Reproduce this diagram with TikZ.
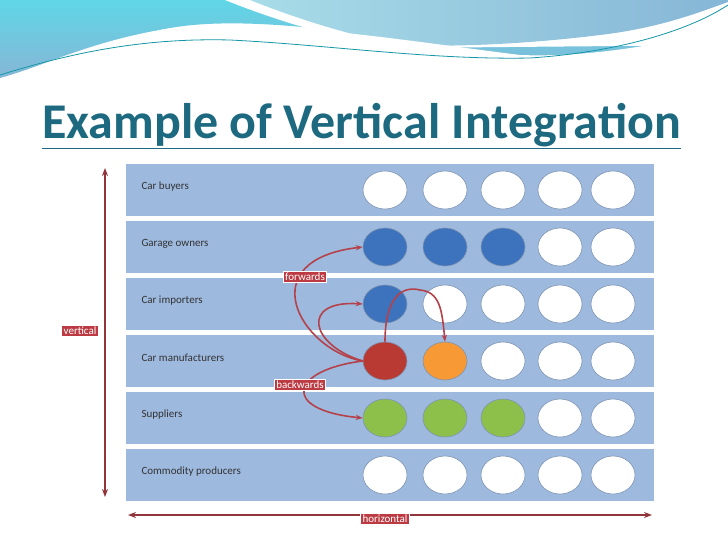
\documentclass[tikz,border=0pt]{standalone}
\usepackage{fontspec}
\setmainfont{Carlito}
\usetikzlibrary{arrows.meta,shapes.geometric}
\definecolor{rowfill}{HTML}{9DB9DE}
\definecolor{cblue}{HTML}{3D72BD}
\definecolor{cred}{HTML}{B83A33}
\definecolor{corange}{HTML}{F79A35}
\definecolor{cgreen}{HTML}{8CC04B}
\definecolor{arrred}{HTML}{B5424A}
\definecolor{titleteal}{HTML}{1D6A80}
\definecolor{waveA}{HTML}{5FD6E6}
\definecolor{waveB}{HTML}{86B6D6}
\definecolor{waveC}{HTML}{A8DCE8}
\tikzset{
  rowbox/.style={fill=rowfill,draw=white,line width=1.5pt},
  rowtext/.style={anchor=west,font=\fontsize{11}{11}\selectfont,text=black!80},
  dot/.style={ellipse,minimum width=44pt,minimum height=38pt,draw=rowfill!80!black,line width=0.6pt,fill=#1},
  tag/.style={fill=arrred!90!red,draw=white,line width=1pt,text=white,font=\fontsize{11}{11}\selectfont,inner sep=2pt},
  link/.style={arrred,line width=1.6pt,-{Stealth[length=7pt]}},
  axis/.style={arrred!80!black,line width=1.5pt,{Stealth[length=8pt]}-{Stealth[length=8pt]}}
}
\begin{document}
\begin{tikzpicture}[x=1pt,y=-1pt]
  \useasboundingbox (0,0) rectangle (728,546);
  % wave header
  \shade[left color=waveA,right color=waveB,shading angle=0] (0,0) -- (728,0) -- (728,30) .. controls (650,55) and (560,60) .. (520,58) .. controls (400,40) and (250,10) .. (160,30) .. controls (90,45) and (30,70) .. (0,78) -- cycle;
  \fill[white] (225,0) .. controls (280,22) and (340,40) .. (400,48) -- (728,45) -- (728,0) -- cycle;
  \shade[left color=waveC,right color=waveB] (250,0) .. controls (300,20) and (350,35) .. (400,45) .. controls (480,48) and (560,40) .. (600,35) .. controls (660,28) and (700,12) .. (728,2) -- (728,0) -- cycle;
  \fill[white] (0,80) .. controls (30,70) and (90,42) .. (160,30) .. controls (250,15) and (400,40) .. (520,55) .. controls (600,58) and (680,40) .. (728,28) -- (728,90) -- (0,90) -- cycle;
  \draw[titleteal!70!cyan,line width=0.8pt] (0,75) .. controls (80,50) and (150,38) .. (230,40) .. controls (330,45) and (430,60) .. (530,58) .. controls (620,52) and (690,30) .. (728,5);
  % title
  \node[anchor=base west,text=titleteal,font=\bfseries\fontsize{50}{50}\selectfont,inner sep=0] (title) at (42,138) {\underline{Example of Vertical Integration}};
  % rows
  \foreach \y/\lbl [count=\i] in {190/Car buyers,247/Garage owners,304/Car importers,361/Car manufacturers,418/Suppliers,475/Commodity producers} {
    \draw[rowbox] (125,\y-27) rectangle (655,\y+27);
    \node[rowtext] (lbl\i) at (138,\y-3) {\lbl};
  }
  % circles
  \foreach \x [count=\j] in {385,445,503,560,613} {
    \node[dot=white] (c1\j) at (\x,190) {};
    \node[dot=white] (c6\j) at (\x,475) {};
  }
  \foreach \x/\c [count=\j] in {385/cblue,445/cblue,503/cblue,560/white,613/white}
    \node[dot=\c] (c2\j) at (\x,247) {};
  \foreach \x/\c [count=\j] in {385/cblue,445/white,503/white,560/white,613/white}
    \node[dot=\c] (c3\j) at (\x,304) {};
  \foreach \x/\c [count=\j] in {385/cred,445/corange,503/white,560/white,613/white}
    \node[dot=\c] (c4\j) at (\x,361) {};
  \foreach \x/\c [count=\j] in {385/cgreen,445/cgreen,503/cgreen,560/white,613/white}
    \node[dot=\c] (c5\j) at (\x,418) {};
  % links
  \draw[link] (c41.west) .. controls (300,350) and (250,260) .. (c21.west);
  \draw[link] (c41.west) .. controls (310,345) and (300,300) .. (c31.west);
  \draw[link] (c41.north) .. controls (385,300) and (400,285) .. (420,290) .. controls (440,292) and (442,310) .. (c42.north);
  \draw[link] (c41.west) .. controls (290,370) and (280,410) .. (c51.west);
  \node[tag] (fwd) at (305,277) {forwards};
  \node[tag] (bwd) at (300,385) {backwards};
  % axes
  \coordinate (vtop) at (105,168);
  \coordinate (vbot) at (105,497);
  \coordinate (hleft) at (128,515);
  \coordinate (hright) at (652,515);
  \draw[axis] (vtop) -- (vbot);
  \draw[axis] (hleft) -- (hright);
  \node[tag] (vert) at (80,331) {vertical};
  \node[tag] (horiz) at (385,519) {horizontal};
\end{tikzpicture}
\end{document}
